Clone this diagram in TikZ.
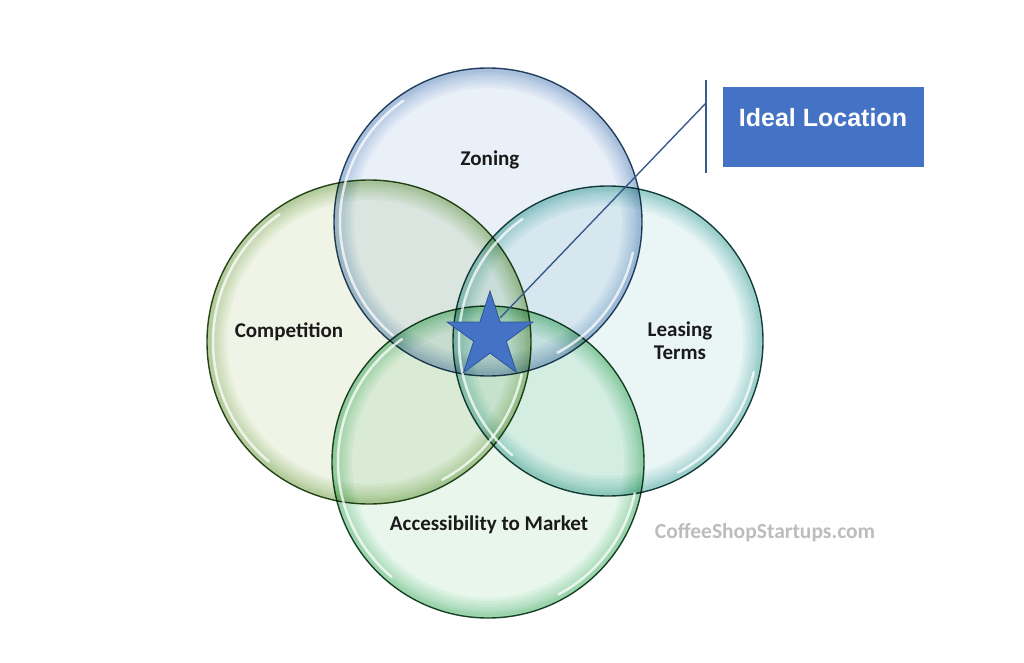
\documentclass[tikz,border=0pt]{standalone}
\usepackage{fontspec}
\setmainfont{Carlito}
\newfontfamily\arialfont{Liberation Sans}
\usetikzlibrary{shapes.geometric}
\definecolor{zoneIn}{HTML}{EAF0F8}
\definecolor{zoneOut}{HTML}{7FA6D2}
\definecolor{zoneLine}{HTML}{2E4A66}
\definecolor{compIn}{HTML}{EFF4E6}
\definecolor{compOut}{HTML}{93BE6E}
\definecolor{compLine}{HTML}{2F4F1F}
\definecolor{leasIn}{HTML}{EAF6F6}
\definecolor{leasOut}{HTML}{62BFB7}
\definecolor{leasLine}{HTML}{1E4646}
\definecolor{accIn}{HTML}{E8F6EC}
\definecolor{accOut}{HTML}{66C985}
\definecolor{accLine}{HTML}{1F4A2E}
\definecolor{boxBlue}{HTML}{4472C4}
\definecolor{starEdge}{HTML}{2F5597}
\definecolor{calloutLine}{HTML}{3A5A8C}
\definecolor{txt}{HTML}{1A1A1A}
\definecolor{wm}{HTML}{BDBDBD}
\tikzset{
  venn/.style={circle, inner sep=0pt, outer sep=0pt, line width=1.4pt},
  lbl/.style={font=\bfseries\fontsize{21}{23}\selectfont, text=txt, align=center, inner sep=0pt},
  hl/.style={white, line width=2.5pt, opacity=0.75, line cap=round},
  callout/.style={calloutLine, line width=1.4pt}
}
\begin{document}
\begin{tikzpicture}[x=1pt,y=-1pt]
\fill[white] (0,0) rectangle (1024,663);
\useasboundingbox (0,0) rectangle (1024,663);
\begin{scope}[blend mode=multiply]
\node[venn, minimum size=308pt, fill=zoneIn] (zoning) at (488,222) {};
\node[venn, minimum size=324pt, fill=compIn] (comp) at (369,342) {};
\node[venn, minimum size=310pt, fill=leasIn] (leas) at (608,341) {};
\node[venn, minimum size=312pt, fill=accIn] (acc) at (488,462) {};
% coloured rims
\foreach \c/\r/\col in {zoning/154/zoneOut, comp/162/compOut, leas/155/leasOut, acc/156/accOut}{
  \foreach \w in {20,17,14,11,8,6,4}{
    \draw[\col, line width=\w pt, opacity=0.085] (\c.center) circle[radius=\r pt-0.5*\w pt];
  }
}
% outlines
\draw[zoneLine, line width=1.4pt] (zoning.center) circle[radius=154pt];
\draw[compLine, line width=1.4pt] (comp.center) circle[radius=162pt];
\draw[leasLine, line width=1.4pt] (leas.center) circle[radius=155pt];
\draw[accLine, line width=1.4pt] (acc.center) circle[radius=156pt];
\end{scope}
% glass highlights
\foreach \c/\r in {zoning/148, comp/156, leas/149, acc/150}{
  \draw[hl] ([shift={(125:\r pt)}]\c.center) arc[start angle=125, end angle=230, radius=\r pt];
  \draw[hl] ([shift={(-12:\r pt)}]\c.center) arc[start angle=-12, end angle=-62, radius=\r pt];
}
\node[lbl] (tzoning) at (490,160) {Zoning};
\node[lbl] (tcomp) at (289,332) {Competition};
\node[lbl] (tleas) at (680,341) {Leasing\\Terms};
\node[lbl] (tacc) at (489,525) {Accessibility to Market};
\node[font=\bfseries\fontsize{21.5}{24}\selectfont, text=wm, inner sep=0pt] (wmark) at (765,533) {CoffeeShopStartups.com};
% star
\node[star, star points=5, star point ratio=2.618, minimum size=90pt, inner sep=0pt, fill=boxBlue, draw=starEdge, line width=0.8pt] (star) at (490,336) {};
% callout
\coordinate (vtop) at (706,80);
\coordinate (vbot) at (706,173);
\coordinate (vmid) at (706,103);
\draw[callout] ([shift={(10pt,18pt)}]star.center) -- (vmid);
\draw[callout] (vtop) -- (vbot);
\node[fill=boxBlue, minimum width=201pt, minimum height=80pt, anchor=north west, inner sep=0pt] (box) at (723,87) {};
\node[font=\arialfont\bfseries\fontsize{25}{28}\selectfont, text=white, inner sep=0pt] (ideal) at (823,118) {Ideal Location};
\end{tikzpicture}
\end{document}
